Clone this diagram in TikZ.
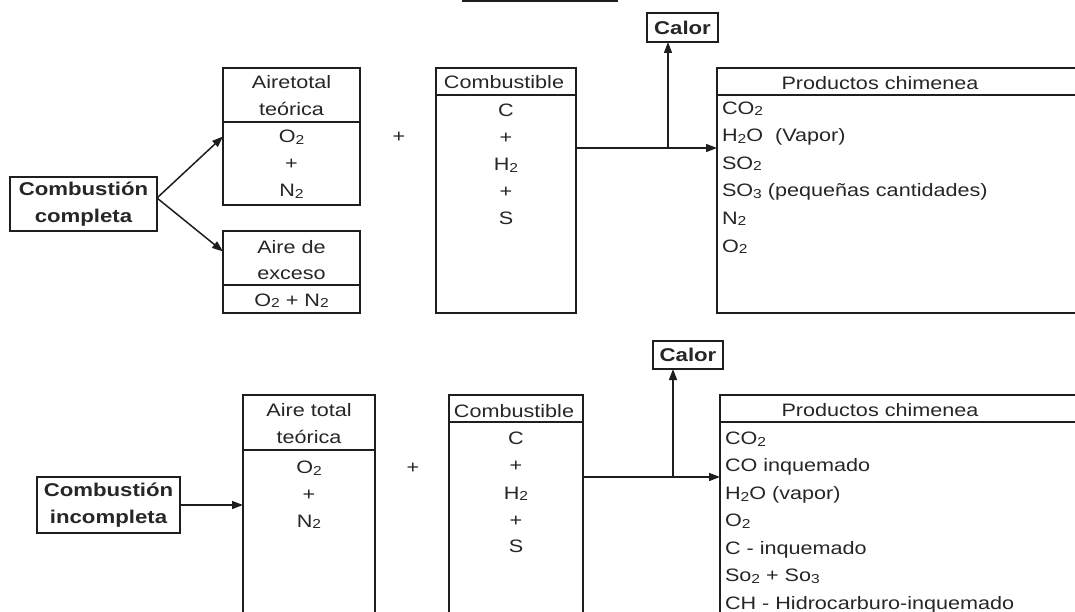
\documentclass[tikz,border=0pt]{standalone}
\usepackage{fontspec}
\setmainfont{Liberation Sans}[FakeStretch=1.2]
\usetikzlibrary{arrows.meta,calc}
\definecolor{linec}{HTML}{1E1E1E}
\definecolor{textc}{HTML}{262626}
\newcommand\dn[1]{\raisebox{-1.5pt}{\fontsize{13}{13}\selectfont #1}}
\tikzset{
  box/.style={draw=linec, line width=1.6pt, rectangle, inner sep=0pt, outer sep=0pt},
  txt/.style={inner sep=0pt, outer sep=0pt, text=textc, font=\fontsize{18}{27}\selectfont},
  btxt/.style={text=textc, font=\fontsize{18.5}{27}\selectfont\bfseries, align=center},
  arr/.style={draw=linec, line width=1.5pt, -{Triangle[length=11pt,width=8pt]}},
  ln/.style={draw=linec, line width=1.6pt}
}
\begin{document}
\begin{tikzpicture}[x=1pt,y=-1pt]
\useasboundingbox (0,0) rectangle (1075,612);
\clip (0,0) rectangle (1075,612);
\fill[white] (0,0) rectangle (1075,612);

% cropped title box at top
\node[box, anchor=south west, minimum width=154pt, minimum height=40pt] (titulo) at (463,1) {};

% ---------- TOP: combustion completa ----------
\node[box, btxt, minimum width=147pt, minimum height=54pt] (cc1) at (83.5,204) {Combustión\\completa};

\node[box, anchor=north west, minimum width=137pt, minimum height=137pt] (at1) at (223,68) {};
\draw[ln] (at1.west |- 0,122) -- (at1.east |- 0,122);
\node[txt, anchor=base] (at1a) at (291.5,89) {Airetotal};
\node[txt, anchor=base] (at1b) at (291.5,116) {teórica};
\node[txt, anchor=base] (at1c) at (291.5,143) {O\dn2};
\node[txt, anchor=base] (at1d) at (291.5,170) {+};
\node[txt, anchor=base] (at1e) at (291.5,197) {N\dn2};

\node[box, anchor=north west, minimum width=137pt, minimum height=82pt] (ae1) at (223,231) {};
\draw[ln] (ae1.west |- 0,285) -- (ae1.east |- 0,285);
\node[txt, anchor=base] (ae1a) at (291.5,254) {Aire de};
\node[txt, anchor=base] (ae1b) at (291.5,279) {exceso};
\node[txt, anchor=base] (ae1c) at (291.5,306) {O\dn2 + N\dn2};

\node[txt, anchor=base] (plus1) at (399,143) {+};

\node[box, anchor=north west, minimum width=140pt, minimum height=245pt] (cb1) at (436,68) {};
\draw[ln] (cb1.west |- 0,95) -- (cb1.east |- 0,95);
\node[txt, anchor=base] (cb1a) at (504,89) {Combustible};
\node[txt, anchor=base] (cb1b) at (506,117) {C};
\node[txt, anchor=base] (cb1c) at (506,144) {+};
\node[txt, anchor=base] (cb1d) at (506,171) {H\dn2};
\node[txt, anchor=base] (cb1e) at (506,198) {+};
\node[txt, anchor=base] (cb1f) at (506,225) {S};

\node[box, anchor=north west, minimum width=400pt, minimum height=245pt] (pc1) at (717,68) {};
\draw[ln] (pc1.west |- 0,95) -- (pc1.east |- 0,95);
\node[txt, anchor=base] (pc1t) at (880,89.5) {Productos chimenea};
\node[txt, anchor=base west] (pc1a) at (722,114.5) {CO\dn2};
\node[txt, anchor=base west] (pc1b) at (722,142) {H\dn2O\ \ (Vapor)};
\node[txt, anchor=base west] (pc1c) at (722,169.5) {SO\dn2};
\node[txt, anchor=base west] (pc1d) at (722,197) {SO\dn3 (pequeñas cantidades)};
\node[txt, anchor=base west] (pc1e) at (722,224.5) {N\dn2};
\node[txt, anchor=base west] (pc1f) at (722,252) {O\dn2};

\node[box, btxt, minimum width=71pt, minimum height=29pt] (cal1) at (682.5,27.5) {Calor};

\draw[arr] ([yshift=6pt]cc1.east) -- (at1.west);
\draw[arr] ([yshift=6pt]cc1.east) -- ($(ae1.north west)!0.25!(ae1.south west)$);
\coordinate (m1) at ($(cb1.north east)+(0,80)$);
\draw[arr] (m1) -- (m1 -| pc1.west);
\coordinate (j1) at (668,148);
\draw[arr] (j1) -- (j1 |- cal1.south);

% ---------- BOTTOM: combustion incompleta ----------
\node[box, btxt, minimum width=143pt, minimum height=56pt] (cc2) at (108.5,505) {Combustión\\incompleta};

\node[box, anchor=north west, minimum width=132pt, minimum height=260pt] (at2) at (243,395) {};
\draw[ln] (at2.west |- 0,450) -- (at2.east |- 0,450);
\node[txt, anchor=base] (at2a) at (309,416.5) {Aire total};
\node[txt, anchor=base] (at2b) at (309,443.5) {teórica};
\node[txt, anchor=base] (at2c) at (309,473.5) {O\dn2};
\node[txt, anchor=base] (at2d) at (309,500) {+};
\node[txt, anchor=base] (at2e) at (309,527) {N\dn2};

\node[txt, anchor=base] (plus2) at (413,473) {+};

\node[box, anchor=north west, minimum width=134pt, minimum height=260pt] (cb2) at (449,395) {};
\draw[ln] (cb2.west |- 0,422) -- (cb2.east |- 0,422);
\node[txt, anchor=base] (cb2a) at (514,417.5) {Combustible};
\node[txt, anchor=base] (cb2b) at (516,444.5) {C};
\node[txt, anchor=base] (cb2c) at (516,471) {+};
\node[txt, anchor=base] (cb2d) at (516,499) {H\dn2};
\node[txt, anchor=base] (cb2e) at (516,526) {+};
\node[txt, anchor=base] (cb2f) at (516,552.5) {S};

\node[box, anchor=north west, minimum width=400pt, minimum height=260pt] (pc2) at (720,395) {};
\draw[ln] (pc2.west |- 0,422) -- (pc2.east |- 0,422);
\node[txt, anchor=base] (pc2t) at (880,416.5) {Productos chimenea};
\node[txt, anchor=base west] (pc2a) at (725,444.5) {CO\dn2};
\node[txt, anchor=base west] (pc2b) at (725,471.5) {CO inquemado};
\node[txt, anchor=base west] (pc2c) at (725,499.5) {H\dn2O (vapor)};
\node[txt, anchor=base west] (pc2d) at (725,526.5) {O\dn2};
\node[txt, anchor=base west] (pc2e) at (725,554.5) {C - inquemado};
\node[txt, anchor=base west] (pc2f) at (725,581.5) {So\dn2 + So\dn3};
\node[txt, anchor=base west] (pc2g) at (725,609.5) {CH - Hidrocarburo-inquemado};

\node[box, btxt, minimum width=70pt, minimum height=28pt] (cal2) at (688,355) {Calor};

\draw[arr] (cc2.east) -- (cc2.east -| at2.west);
\coordinate (m2) at ($(cb2.north east)+(0,82)$);
\draw[arr] (m2) -- (m2 -| pc2.west);
\coordinate (j2) at (673,477);
\draw[arr] (j2) -- (j2 |- cal2.south);
\end{tikzpicture}
\end{document}
